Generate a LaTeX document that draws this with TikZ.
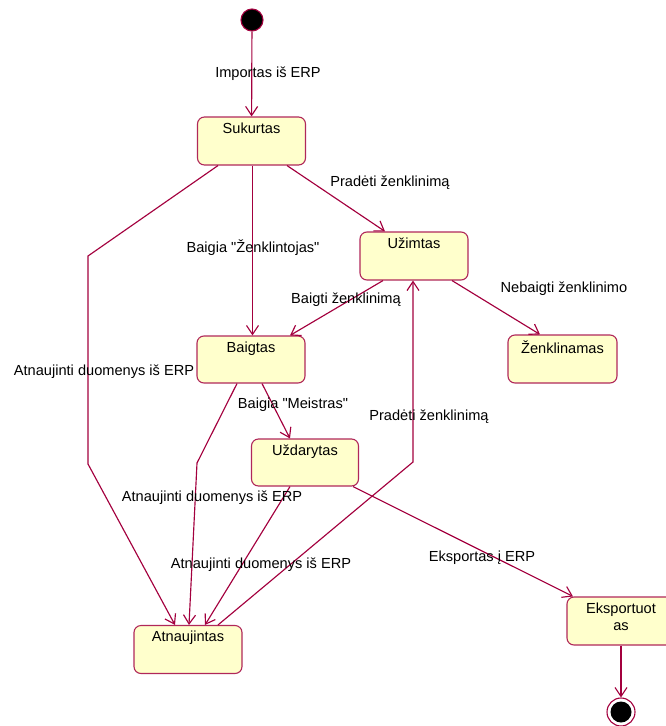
\documentclass[tikz,border=0pt]{standalone}
\usepackage{fontspec}
\setmainfont{Liberation Sans}[Ligatures=TeXOff]
\usetikzlibrary{arrows.meta}
\definecolor{umlline}{RGB}{163,0,62}
\definecolor{umledge}{RGB}{176,40,90}
\definecolor{umlfill}{RGB}{255,255,204}
\begin{document}
\begin{tikzpicture}[x=1pt,y=-1pt,
  every node/.style={font=\fontsize{14.6}{17}\selectfont},
  statebox/.style={draw=umledge, fill=umlfill, rounded corners=7pt, line width=1.1pt,
    minimum width=107pt, minimum height=48pt, inner sep=0pt},
  statename/.style={anchor=north, inner sep=0pt, yshift=-6pt, align=center},
  trans/.style={draw=umlline, line width=1.15pt, -{Straight Barb[length=9pt,width=12pt,line width=1.15pt]}},
  lbl/.style={inner sep=0pt, text=black}]
\useasboundingbox (0,0) rectangle (666,726);

% initial and final pseudo-states
\node[circle, fill=black, draw=umlline, line width=1.1pt, minimum size=22pt, inner sep=0pt] (init) at (252,20) {};
\node[circle, fill=white, draw=umlline, line width=1.1pt, minimum size=28pt, inner sep=0pt] (final) at (621,712) {};
\node[circle, fill=black, minimum size=21pt, inner sep=0pt] (finaldot) at (final.center) {};

% states
\node[statebox, minimum width=108pt, label={[statename]north:Sukurtas}] (sukurtas) at (251.5,141) {};
\node[statebox, minimum width=108pt, label={[statename]north:Užimtas}] (uzimtas) at (414,256) {};
\node[statebox, minimum width=109pt, label={[statename]north:Ženklinamas}] (zenklinamas) at (562.5,359) {};
\node[statebox, minimum width=108pt, minimum height=47pt, label={[statename]north:Baigtas}] (baigtas) at (251,359.5) {};
\node[statebox, minimum height=47pt, label={[statename]north:Uždarytas}] (uzdarytas) at (305,462.5) {};
\node[statebox, minimum width=108pt, label={[statename]north:Atnaujintas}] (atnaujintas) at (188,649.5) {};
\node[statebox, minimum width=108pt, label={[statename]north:{Eksportuot\\as}}] (eksportuotas) at (621,621) {};

% bend points of routed transitions
\coordinate (leftA) at (88,256);
\coordinate (leftB) at (88,464);
\coordinate (midA) at (197,463);
\coordinate (backA) at (413,462);

% transitions
\draw[trans] (init) -- (sukurtas);
\draw[trans] ([xshift=35.5pt]sukurtas.south) -- ([xshift=-29pt]uzimtas.north);
\draw[trans] ([xshift=1pt]sukurtas.south) -- ([xshift=1.5pt]baigtas.north);
\draw[trans] ([xshift=-33.5pt]sukurtas.south) -- (leftA) -- (leftB) -- ([xshift=-13pt]atnaujintas.north);
\draw[trans] ([xshift=-31pt]uzimtas.south) -- ([xshift=39pt]baigtas.north);
\draw[trans] ([xshift=38pt]uzimtas.south) -- ([xshift=-22.5pt]zenklinamas.north);
\draw[trans] ([xshift=11pt]baigtas.south) -- ([xshift=-15pt]uzdarytas.north);
\draw[trans] ([xshift=-14pt]baigtas.south) -- (midA) -- ([xshift=1pt]atnaujintas.north);
\draw[trans] ([xshift=-15pt]uzdarytas.south) -- ([xshift=17pt]atnaujintas.north);
\draw[trans] ([xshift=30pt]atnaujintas.north) -- (backA) -- (backA |- uzimtas.south);
\draw[trans] ([xshift=48pt]uzdarytas.south) -- ([xshift=-48pt]eksportuotas.north);
\draw[trans] (eksportuotas) -- (final);

% transition labels
\node[lbl] (l1) at (268,74) {Importas iš ERP};
\node[lbl] (l2) at (390,183) {Pradėti ženklinimą};
\node[lbl] (l3) at (253,248) {Baigia "Ženklintojas"};
\node[lbl] (l4) at (104,372) {Atnaujinti duomenys iš ERP};
\node[lbl] (l5) at (346,300) {Baigti ženklinimą};
\node[lbl] (l6) at (564,289) {Nebaigti ženklinimo};
\node[lbl] (l7) at (293,405) {Baigia "Meistras"};
\node[lbl] (l8) at (212,498) {Atnaujinti duomenys iš ERP};
\node[lbl] (l9) at (261,565) {Atnaujinti duomenys iš ERP};
\node[lbl] (l10) at (429,417) {Pradėti ženklinimą};
\node[lbl] (l11) at (482,558) {Eksportas į ERP};
\end{tikzpicture}
\end{document}
